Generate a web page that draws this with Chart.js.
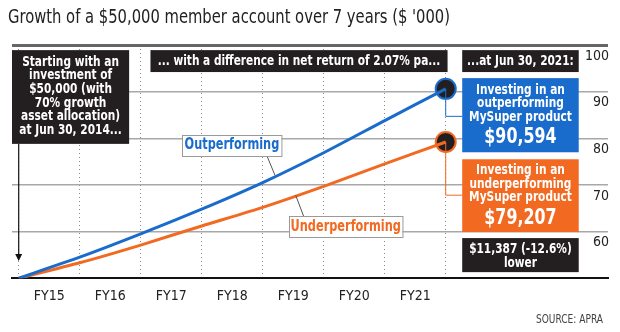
<!DOCTYPE html>
<html>
<head>
<meta charset="utf-8">
<script src="https://cdn.jsdelivr.net/npm/chart.js@4.4.1/dist/chart.umd.min.js"></script>
<style>
  html, body { margin: 0; background: #fff; }
  #wrap { width: 620px; height: 332px; }
</style>
</head>
<body>
<div id="wrap"><canvas id="growthChart"></canvas></div>
<script>
// years since Jun 30, 2014 (one point per Jun 30)
const years = [0, 1, 2, 3, 4, 5, 6, 7];
const fyLabels = ['FY15', 'FY16', 'FY17', 'FY18', 'FY19', 'FY20', 'FY21'];
const outperforming = [50, 54.5, 59.5, 64.8, 70.5, 76.9, 83.8, 90.594];
const underperforming = [50, 53.3, 57.1, 61.2, 65.2, 69.7, 74.5, 79.207];
const yTicks = [50, 60, 70, 80, 90, 100];

const titleText = "Growth of a $50,000 member account over 7 years ($ '000)";
const sourceText = 'SOURCE: APRA';

const BLUE = '#1a6ccc';
const ORANGE = '#f26a21';
const DARK = '#231f20';
const FONT = "'Liberation Sans Narrow', 'DejaVu Sans Condensed', 'Roboto', sans-serif";
const SQUEEZE = 0.84; // the original uses a condensed face

const toPoints = arr => arr.map((v, i) => ({x: years[i], y: v}));
const last = years.length - 1;

// text boxes placed in data space (x in years, y in $'000)
const notes = [
    {x0: -0.11, x1: 1.81, y0: 98.9, y1: 78.8, fill: DARK, color: '#fff',
     lines: [['Starting with an', 14, 12], ['investment of', 14, 25.6], ['$50,000 (with', 14, 39.2],
             ['70% growth', 14, 52.8], ['asset allocation)', 14, 66.4], ['at Jun 30, 2014...', 14, 80]]},
    {x0: 2.16, x1: 7.03, y0: 98.9, y1: 94.2, fill: DARK, color: '#fff',
     lines: [['... with a difference in net return of 2.07% pa...', 14, 11]]},
    {x0: 7.27, x1: 9.18, y0: 98.9, y1: 94.2, fill: DARK, color: '#fff',
     lines: [['...at Jun 30, 2021:', 14, 11]]},
    {x0: 7.27, x1: 9.18, y0: 92.9, y1: 77.0, fill: BLUE, color: '#fff',
     lines: [['Investing in an', 14, 12], ['outperforming', 14, 25.5], ['MySuper product', 14, 39], ['$90,594', 21, 59]]},
    {x0: 7.27, x1: 9.18, y0: 75.5, y1: 59.9, fill: ORANGE, color: '#fff',
     lines: [['Investing in an', 14, 11.5], ['underperforming', 14, 25], ['MySuper product', 14, 38.5], ['$79,207', 21, 59]]},
    {x0: 7.27, x1: 9.18, y0: 58.6, y1: 51.3, fill: DARK, color: '#fff',
     lines: [['$11,387 (-12.6%)', 14, 11], ['lower', 14, 25]]},
    {x0: 2.68, x1: 4.31, y0: 80.7, y1: 76.2, fill: '#fff', stroke: '#9a9a9a', color: BLUE,
     lines: [['Outperforming', 15, 10.5]]},
    {x0: 4.43, x1: 6.29, y0: 63.3, y1: 58.8, fill: '#fff', stroke: '#9a9a9a', color: ORANGE,
     lines: [['Underperforming', 15, 10.5]]}
];

// leader / connector polylines
const leaders = [
    {pts: [[4.07, 76.2], [4.2, 72.1]], color: '#555'},
    {pts: [[4.54, 67.8], [4.67, 63.3]], color: '#555'},
    {pts: [[7, 90.594], [7, 84.7], [7.27, 84.7]], color: BLUE},
    {pts: [[7, 79.207], [7, 67.8], [7.27, 67.8]], color: ORANGE}
];

function squeezedText(ctx, text, x, y, align, sx) {
    ctx.save();
    ctx.translate(x, y);
    ctx.scale(sx, 1);
    ctx.textAlign = align;
    ctx.fillText(text, 0, 0);
    ctx.restore();
}

const annotationPlugin = {
    id: 'notes',
    afterDraw(chart) {
        const {ctx, scales: {x, y}} = chart;
        ctx.save();
        ctx.textBaseline = 'middle';

        // title, fitted to the original's width
        ctx.fillStyle = '#222';
        ctx.font = '19px ' + FONT;
        squeezedText(ctx, titleText, 8, 18, 'left', 442 / ctx.measureText(titleText).width);

        // source line
        ctx.fillStyle = '#444';
        ctx.font = '12px ' + FONT;
        squeezedText(ctx, sourceText, 603, 320, 'right', SQUEEZE);

        // leaders
        leaders.forEach(l => {
            ctx.strokeStyle = l.color;
            ctx.lineWidth = 1;
            ctx.beginPath();
            l.pts.forEach((p, i) => {
                const px = x.getPixelForValue(p[0]), py = y.getPixelForValue(p[1]);
                if (i === 0) ctx.moveTo(px, py); else ctx.lineTo(px, py);
            });
            ctx.stroke();
        });

        // start arrow
        const ax = x.getPixelForValue(0);
        const aTop = y.getPixelForValue(78.8);
        const aTip = y.getPixelForValue(53.7);
        ctx.strokeStyle = '#111';
        ctx.lineWidth = 1.2;
        ctx.beginPath();
        ctx.moveTo(ax, aTop);
        ctx.lineTo(ax, aTip - 4);
        ctx.stroke();
        ctx.fillStyle = '#111';
        ctx.beginPath();
        ctx.moveTo(ax - 3.5, aTip - 7);
        ctx.lineTo(ax + 3.5, aTip - 7);
        ctx.lineTo(ax, aTip);
        ctx.closePath();
        ctx.fill();

        // boxes
        notes.forEach(n => {
            const left = x.getPixelForValue(n.x0), right = x.getPixelForValue(n.x1);
            const top = y.getPixelForValue(n.y0), bottom = y.getPixelForValue(n.y1);
            ctx.fillStyle = n.fill;
            ctx.fillRect(left, top, right - left, bottom - top);
            if (n.stroke) {
                ctx.strokeStyle = n.stroke;
                ctx.lineWidth = 1;
                ctx.strokeRect(Math.round(left) + 0.5, Math.round(top) + 0.5, right - left, bottom - top);
            }
            ctx.fillStyle = n.color;
            n.lines.forEach(([t, size, dy]) => {
                ctx.font = 'bold ' + size + 'px ' + FONT;
                squeezedText(ctx, t, (left + right) / 2, top + dy, 'center', SQUEEZE);
            });
        });
        ctx.restore();
    }
};

new Chart(document.getElementById('growthChart'), {
    type: 'line',
    data: {
        datasets: [
            {
                label: 'Outperforming',
                data: toPoints(outperforming),
                borderColor: BLUE,
                borderWidth: 3,
                pointRadius: 0,
                tension: 0.2,
                order: 1
            },
            {
                label: 'Underperforming',
                data: toPoints(underperforming),
                borderColor: ORANGE,
                borderWidth: 3,
                pointRadius: 0,
                tension: 0.2,
                order: 1
            },
            {
                label: 'Outperforming end',
                data: toPoints(outperforming),
                showLine: false,
                pointRadius: ctx => ctx.dataIndex === last ? 10 : 0,
                pointBackgroundColor: DARK,
                pointBorderColor: BLUE,
                pointBorderWidth: 2,
                order: 2
            },
            {
                label: 'Underperforming end',
                data: toPoints(underperforming),
                showLine: false,
                pointRadius: ctx => ctx.dataIndex === last ? 10 : 0,
                pointBackgroundColor: DARK,
                pointBorderColor: ORANGE,
                pointBorderWidth: 2,
                order: 2
            }
        ]
    },
    options: {
        responsive: true,
        maintainAspectRatio: false,
        animation: false,
        events: [],
        layout: {
            padding: {left: 10, right: 10, top: 45, bottom: 17}
        },
        scales: {
            x: {
                type: 'linear',
                min: -0.11,
                max: 9.66,
                afterBuildTicks: scale => {
                    scale.ticks = years.map(v => ({value: v}));
                },
                // labels sit between gridlines, so no extra edge padding is needed
                afterFit: scale => {
                    scale.paddingLeft = 0;
                    scale.paddingRight = 0;
                },
                grid: {
                    color: '#8a8a8a',
                    lineWidth: 1,
                    drawTicks: false
                },
                border: {
                    color: '#111',
                    width: 2,
                    dash: [1, 3]
                },
                ticks: {
                    autoSkip: false,
                    maxRotation: 0,
                    padding: 10,
                    labelOffset: 30.6,
                    color: '#222',
                    font: {family: FONT, size: 14},
                    callback: (v, i) => fyLabels[i] || ''
                }
            },
            y: {
                position: 'right',
                min: 50,
                max: 100,
                afterBuildTicks: scale => {
                    scale.ticks = yTicks.map(v => ({value: v}));
                },
                grid: {
                    drawTicks: false,
                    color: ctx => ctx.tick.value === 100 ? '#666' : (ctx.tick.value === 50 ? 'rgba(0,0,0,0)' : '#a8a8a8'),
                    lineWidth: ctx => ctx.tick.value === 100 ? 3 : 1.5
                },
                border: {display: false},
                ticks: {
                    mirror: true,
                    padding: 1,
                    labelOffset: 11,
                    color: '#222',
                    font: {family: FONT, size: 14},
                    callback: v => v === 50 ? '' : v
                }
            }
        },
        plugins: {
            legend: {display: false},
            tooltip: {enabled: false}
        }
    },
    plugins: [annotationPlugin]
});
</script>
</body>
</html>
